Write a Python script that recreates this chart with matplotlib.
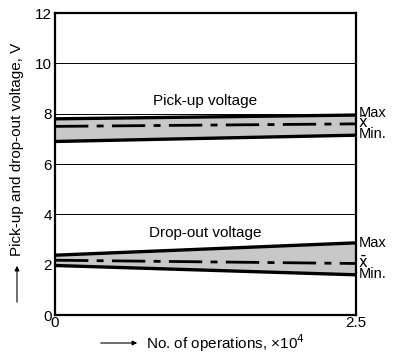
import numpy as np
import matplotlib
matplotlib.use("Agg")
import matplotlib.pyplot as plt

plt.rcParams["font.family"] = ["Liberation Sans", "DejaVu Sans"]

# operations (x10^4), start and end of the test
ops = [0, 2.5]

# pick-up voltage band
pick_max = [7.8, 7.95]
pick_mean = [7.5, 7.6]
pick_min = [6.9, 7.15]

# drop-out voltage band
drop_max = [2.38, 2.87]
drop_mean = [2.18, 2.05]
drop_min = [1.97, 1.6]

fig = plt.figure(figsize=(3.93, 3.56), dpi=100)
ax = fig.add_axes([0.14, 0.115, 0.766, 0.848])

for lo, mid, hi in [(pick_min, pick_mean, pick_max), (drop_min, drop_mean, drop_max)]:
    ax.fill_between(ops, lo, hi, color="#c8c8c8", lw=0, zorder=2)
    ax.plot(ops, hi, color="black", lw=2.4, zorder=3)
    ax.plot(ops, lo, color="black", lw=2.4, zorder=3)
    ax.plot(ops, mid, color="black", lw=2.0, zorder=3,
            dashes=(12, 3, 2.5, 3))

for y in [4, 6, 8, 10]:
    ax.axhline(y, color="black", lw=0.7, zorder=1)

ax.set_xlim(0, 2.5)
ax.set_ylim(0, 12)
ax.set_yticks([0, 2, 4, 6, 8, 10, 12])
ax.set_xticks([0, 2.5])
ax.set_xticklabels(["0", "2.5"])
ax.tick_params(length=0, labelsize=11, pad=2)
ax.tick_params(axis="x", pad=1)
for s in ax.spines.values():
    s.set_linewidth(1.6)

ax.text(1.25, 8.25, "Pick-up voltage", ha="center", va="bottom", fontsize=11)
ax.text(1.25, 3.0, "Drop-out voltage", ha="center", va="bottom", fontsize=11)

# end labels at right, one stacked text per band
ax.text(2.52, pick_mean[1] + 0.02, "Max\n$\\bar{\\mathrm{x}}$\nMin.", ha="left", va="center",
        fontsize=10.5, linespacing=0.64, clip_on=False)
ax.text(2.52, drop_mean[1] + 0.2, "Max\n\n$\\bar{\\mathrm{x}}$\nMin.", ha="left", va="center",
        fontsize=10.5, linespacing=0.64, clip_on=False)

# axis labels with arrows
fig.text(146 / 393, 1 - 343 / 356, "No. of operations, \u00d710$^4$", ha="left", va="center", fontsize=11)
fig.add_artist(matplotlib.patches.FancyArrowPatch(
    (98 / 393, 1 - 343 / 356), (140 / 393, 1 - 343 / 356),
    transform=fig.transFigure, arrowstyle="-|>", mutation_scale=7, lw=0.8, color="black"))
fig.text(17 / 393, 1 - 256 / 356, "Pick-up and drop-out voltage, V", ha="center", va="bottom",
         rotation=90, fontsize=11)
fig.add_artist(matplotlib.patches.FancyArrowPatch(
    (17 / 393, 1 - 305 / 356), (17 / 393, 1 - 263 / 356),
    transform=fig.transFigure, arrowstyle="-|>", mutation_scale=7, lw=0.8, color="black"))

fig.savefig("out.png", dpi=100)
